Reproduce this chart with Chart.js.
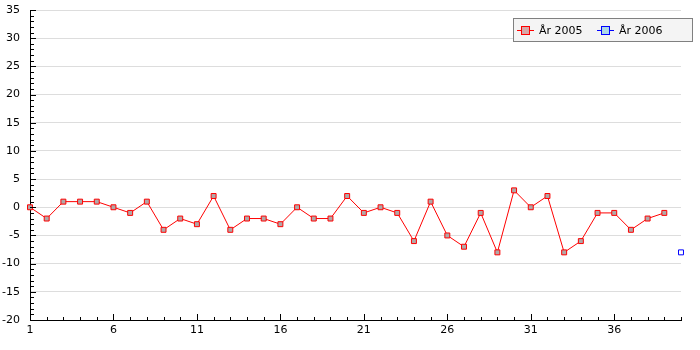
<!DOCTYPE html>
<html>
<head>
<meta charset="utf-8">
<script src="https://cdn.jsdelivr.net/npm/chart.js@4/dist/chart.umd.min.js"></script>
<style>
  html, body { margin: 0; padding: 0; background: #fff; }
  #wrap { width: 700px; height: 350px; }
</style>
</head>
<body>
<div id="wrap"><canvas id="myChart" width="700" height="350"></canvas></div>
<script>
// data
const labels2005 = [1,2,3,4,5,6,7,8,9,10,11,12,13,14,15,16,17,18,19,20,
                    21,22,23,24,25,26,27,28,29,30,31,32,33,34,35,36,37,38,39]
const values2005 = [0,-2,1,1,1,0,-1,1,-4,-2,-3,2,-4,-2,-2,-3,0,-2,-2,2,
                    -1,0,-1,-6,1,-5,-7,-1,-8,3,0,2,-8,-6,-1,-1,-4,-2,-1]
const labels2006 = [40]
const values2006 = [-8]
const seriesNames = ["År 2005", "År 2006"]
const xMin = 1, xMax = 40
const yMin = -20, yMax = 35

const FONT = { family: "'DejaVu Sans', sans-serif", size: 11 }

function toPoints(xs, ys) {
    return xs.map((x, i) => ({ x: x, y: ys[i] }))
}

// small inward ticks on both axes
const minorTicks = {
    id: "minorTicks",
    afterDraw(chart) {
        const ctx = chart.ctx
        const xs = chart.scales.x, ys = chart.scales.y
        ctx.save()
        ctx.strokeStyle = "#000"
        ctx.lineWidth = 1
        ctx.beginPath()
        for (let v = yMin; v <= yMax; v++) {
            const py = Math.round(ys.getPixelForValue(v)) + 0.5
            const len = v % 5 === 0 ? 6 : 4
            ctx.moveTo(xs.left, py)
            ctx.lineTo(xs.left + len, py)
        }
        for (let v = xMin; v <= xMax; v++) {
            const px = Math.round(xs.getPixelForValue(v)) + 0.5
            const len = (v - 1) % 5 === 0 ? 6 : 3
            ctx.moveTo(px, ys.bottom)
            ctx.lineTo(px, ys.bottom - len)
        }
        ctx.stroke()
        ctx.restore()
    }
}

// legend box inside the plot, top right
const boxLegend = {
    id: "boxLegend",
    afterDraw(chart) {
        const ctx = chart.ctx
        const area = chart.chartArea
        const x0 = area.right - 168, y0 = 18, w = 180, h = 24
        ctx.save()
        ctx.fillStyle = "#f4f4f4"
        ctx.fillRect(x0, y0, w, h)
        ctx.strokeStyle = "#808080"
        ctx.lineWidth = 1
        ctx.strokeRect(x0 + 0.5, y0 + 0.5, w - 1, h - 1)
        ctx.font = FONT.size + "px " + FONT.family
        ctx.textBaseline = "middle"
        const cy = y0 + 12
        let x = x0 + 4
        chart.data.datasets.forEach((ds) => {
            ctx.strokeStyle = ds.borderColor
            ctx.beginPath()
            ctx.moveTo(x, cy + 0.5)
            ctx.lineTo(x + 17, cy + 0.5)
            ctx.stroke()
            ctx.fillStyle = ds.legendFill
            ctx.fillRect(x + 4, cy - 4, 9, 9)
            ctx.strokeRect(x + 4.5, cy - 3.5, 8, 8)
            ctx.fillStyle = "#000"
            ctx.fillText(ds.label, x + 22, cy + 1)
            x += 80
        })
        ctx.restore()
    }
}

const data = {
    datasets: [
        {
            label: seriesNames[0],
            data: toPoints(labels2005, values2005),
            borderColor: "#ff0000",
            borderWidth: 1,
            backgroundColor: "#b0a8a8",
            legendFill: "#d8a8a8",
            pointStyle: "rect",
            pointRadius: 3.5,
            pointBorderWidth: 1,
            pointBorderColor: "#ff0000",
            pointBackgroundColor: "#b0a8a8",
            tension: 0
        },
        {
            label: seriesNames[1],
            data: toPoints(labels2006, values2006),
            borderColor: "#0000ff",
            borderWidth: 1,
            backgroundColor: "#ffffff",
            legendFill: "#add8e6",
            pointStyle: "rect",
            pointRadius: 3.5,
            pointBorderWidth: 1,
            pointBorderColor: "#0000ff",
            pointBackgroundColor: "#ffffff"
        }
    ]
}

const config = {
    type: "line",
    data: data,
    options: {
        responsive: false,
        animation: false,
        clip: false,
        layout: { padding: { left: 0, right: 19, top: 10, bottom: 0 } },
        plugins: {
            legend: { display: false },
            tooltip: { enabled: false }
        },
        scales: {
            x: {
                type: "linear",
                min: xMin,
                max: xMax,
                afterFit(scale) {
                    scale.height = 30
                    scale.paddingLeft = 0
                    scale.paddingRight = 0
                },
                border: { display: true, color: "#000", width: 1 },
                grid: { display: false, drawTicks: false },
                ticks: {
                    stepSize: 1,
                    autoSkip: false,
                    maxRotation: 0,
                    maxTicksLimit: 100,
                    padding: 4,
                    color: "#000",
                    font: FONT,
                    callback: (v) => ((v - 1) % 5 === 0 && v < xMax ? String(v) : "")
                }
            },
            y: {
                min: yMin,
                max: yMax,
                afterFit(scale) {
                    scale.width = 30
                    scale.paddingTop = 0
                    scale.paddingBottom = 0
                },
                border: { display: true, color: "#000", width: 1 },
                grid: {
                    drawTicks: false,
                    color: (c) => (c.tick && c.tick.value % 5 === 0 ? "#dddddd" : "rgba(0,0,0,0)")
                },
                ticks: {
                    stepSize: 1,
                    autoSkip: false,
                    maxTicksLimit: 100,
                    padding: 10,
                    color: "#000",
                    font: FONT,
                    callback: (v) => (v % 5 === 0 ? String(v) : "")
                }
            }
        }
    },
    plugins: [minorTicks, boxLegend]
}

const myChart = new Chart(document.getElementById("myChart"), config)
</script>
</body>
</html>
